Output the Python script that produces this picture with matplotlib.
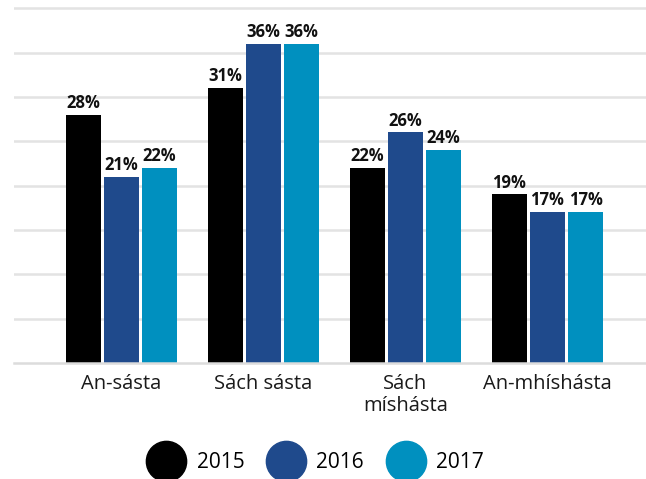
import numpy as np
import matplotlib.pyplot as plt
from matplotlib.lines import Line2D

# categories and yearly shares (percent)
categories = ['An-sásta', 'Sách sásta', 'Sách\nmíshásta', 'An-mhíshásta']
years = ['2015', '2016', '2017']
vals_2015 = [28, 31, 22, 19]
vals_2016 = [21, 36, 26, 17]
vals_2017 = [22, 36, 24, 17]

colors = ['#000000', '#1f4a8c', '#0090bf']

plt.rcParams['font.family'] = ['Open Sans', 'DejaVu Sans']

fig = plt.figure(figsize=(6.46, 4.79), dpi=100)
# axes placed to match the pixel layout of the reference
ax = fig.add_axes([14 / 646, 1 - 363 / 479, 1 - 14 / 646, 363 / 479])

x = np.arange(len(categories))
step = 0.268
width = 0.246
series = [vals_2015, vals_2016, vals_2017]
for i, vals in enumerate(series):
    bars = ax.bar(x + (i - 1) * step, vals, width, color=colors[i], zorder=3)
    for b, v in zip(bars, vals):
        ax.annotate(f'{v}%', (b.get_x() + b.get_width() / 2, b.get_height()),
                    xytext=(0, 2), textcoords='offset points',
                    ha='center', va='bottom', fontsize=12, fontweight='bold',
                    color='#111111')

ax.set_xlim(-0.757, 3.694)
ax.set_ylim(0, 363 / 8.87)
ax.set_yticks(np.arange(5, 45, 5))
ax.yaxis.grid(True, color='#e3e3e3', linewidth=1.8, zorder=0)
ax.tick_params(axis='y', left=False, labelleft=False)
ax.set_xticks(x)
ax.set_xticklabels(categories, fontsize=14.5, color='#1a1a1a', linespacing=1.15)
ax.tick_params(axis='x', length=0, pad=8)
for s in ['top', 'right', 'left']:
    ax.spines[s].set_visible(False)
ax.spines['bottom'].set_color('#dcdcdc')
ax.spines['bottom'].set_linewidth(1.8)
ax.spines['bottom'].set_zorder(4)

handles = [Line2D([], [], marker='o', linestyle='none', markersize=29,
                  markerfacecolor=c, markeredgecolor=c) for c in colors]
fig.legend(handles, years, loc='center', bbox_to_anchor=(0.487, 0.034),
           ncol=3, frameon=False, fontsize=15, handletextpad=0.45,
           columnspacing=1.0, borderpad=0)

fig.savefig('out.png', dpi=100)
